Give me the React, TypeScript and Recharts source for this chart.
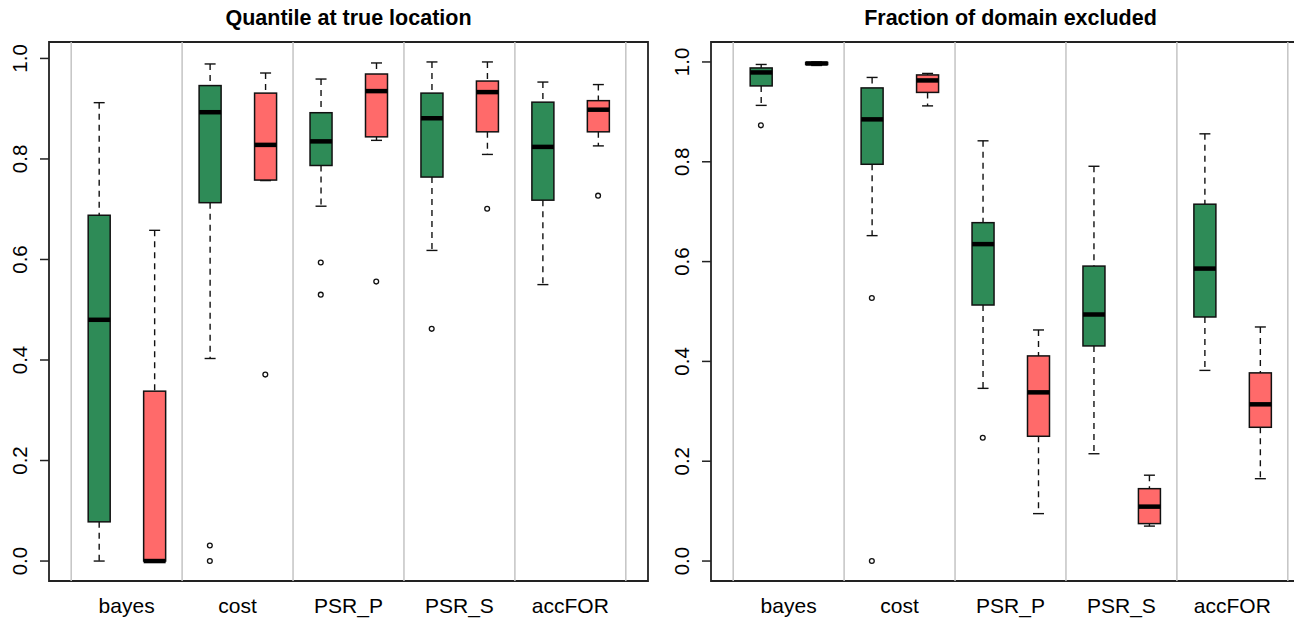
import {
  ComposedChart,
  Bar,
  Scatter,
  XAxis,
  YAxis,
  ReferenceLine,
  ReferenceArea,
} from "recharts";

const categories = ["bayes", "cost", "PSR_P", "PSR_S", "accFOR"];
const yTicks = [0, 0.2, 0.4, 0.6, 0.8, 1.0];

// each box: [lower whisker, Q1, median, Q3, upper whisker]
const quantileGreen = [
  [0.0, 0.078, 0.48, 0.688, 0.912],
  [0.403, 0.713, 0.893, 0.946, 0.989],
  [0.706, 0.787, 0.835, 0.892, 0.959],
  [0.618, 0.764, 0.881, 0.931, 0.993],
  [0.55, 0.718, 0.824, 0.913, 0.953],
];
const quantileRed = [
  [0.0, 0.0, 0.0, 0.338, 0.658],
  [0.757, 0.758, 0.828, 0.931, 0.971],
  [0.837, 0.844, 0.935, 0.969, 0.991],
  [0.809, 0.854, 0.933, 0.955, 0.993],
  [0.826, 0.854, 0.898, 0.916, 0.948],
];
const quantileGreenOut = [[], [0.031, 0.0], [0.594, 0.53], [0.462], []];
const quantileRedOut = [[], [0.371], [0.556], [0.701], [0.727]];

const excludedGreen = [
  [0.913, 0.952, 0.979, 0.988, 0.995],
  [0.652, 0.795, 0.885, 0.948, 0.969],
  [0.346, 0.513, 0.635, 0.678, 0.842],
  [0.215, 0.431, 0.494, 0.591, 0.791],
  [0.382, 0.489, 0.586, 0.715, 0.856],
];
const excludedRed = [
  [0.993, 0.995, 0.997, 0.999, 1.0],
  [0.912, 0.939, 0.963, 0.974, 0.977],
  [0.095, 0.25, 0.338, 0.411, 0.463],
  [0.07, 0.075, 0.109, 0.145, 0.172],
  [0.165, 0.268, 0.314, 0.377, 0.469],
];
const excludedGreenOut = [[0.873], [0.527, 0.0], [0.247], [], []];
const excludedRedOut = [[], [], [], [], []];

const GREEN = "#2E8B57";
const RED = "#FF6A6A";
const FONT = "'Liberation Sans', Arial, Helvetica, sans-serif";

const buildBoxes = (green: number[][], red: number[][]) =>
  categories.flatMap((_, i) =>
    [
      { pos: 2 * i + 1, s: green[i], fill: GREEN },
      { pos: 2 * i + 2, s: red[i], fill: RED },
    ].map(({ pos, s, fill }) => ({
      pos,
      fill,
      min: s[0],
      q1: s[1],
      med: s[2],
      q3: s[3],
      max: s[4],
    }))
  );

const buildOutliers = (green: number[][], red: number[][]) =>
  categories.flatMap((_, i) => [
    ...green[i].map((value) => ({ pos: 2 * i + 1, value })),
    ...red[i].map((value) => ({ pos: 2 * i + 2, value })),
  ]);

const groupCenters = categories.map((_, i) => 2 * i + 1.5);
const dividers = [...categories.map((_, i) => 2 * i + 0.5), 10.5];

const BoxShape = (props: any) => {
  const { x, y, width, height, payload } = props;
  const top = Math.min(y, y + height);
  const bottom = Math.max(y, y + height);
  const span = payload.max - payload.min;
  const py = (v: number) =>
    span === 0 ? top : bottom - ((v - payload.min) / span) * (bottom - top);
  const cx = x + width / 2;
  const cap = width / 4;
  return (
    <g>
      <line x1={cx} x2={cx} y1={py(payload.max)} y2={py(payload.q3)} stroke="#111" strokeWidth={1.4} strokeDasharray="6 5" />
      <line x1={cx} x2={cx} y1={py(payload.q1)} y2={py(payload.min)} stroke="#111" strokeWidth={1.4} strokeDasharray="6 5" />
      <line x1={cx - cap} x2={cx + cap} y1={py(payload.max)} y2={py(payload.max)} stroke="#111" strokeWidth={1.4} />
      <line x1={cx - cap} x2={cx + cap} y1={py(payload.min)} y2={py(payload.min)} stroke="#111" strokeWidth={1.4} />
      <rect
        x={x}
        y={py(payload.q3)}
        width={width}
        height={Math.max(0, py(payload.q1) - py(payload.q3))}
        fill={payload.fill}
        stroke="#111"
        strokeWidth={1.5}
      />
      <line x1={x} x2={x + width} y1={py(payload.med)} y2={py(payload.med)} stroke="#000" strokeWidth={4.5} />
    </g>
  );
};

const YTick = ({ x, y, payload }: any) => (
  <text
    x={x}
    y={y}
    transform={`rotate(-90 ${x} ${y})`}
    textAnchor="middle"
    fontSize={20.5}
    fontFamily={FONT}
    fill="#000"
  >
    {payload.value.toFixed(1)}
  </text>
);

const XTick = ({ x, y, payload }: any) => (
  <text x={x} y={y + 32} textAnchor="middle" fontSize={21} fontFamily={FONT} fill="#000">
    {categories[groupCenters.indexOf(payload.value)]}
  </text>
);

interface PanelProps {
  title: string;
  left: number;
  boxes: ReturnType<typeof buildBoxes>;
  outliers: { pos: number; value: number }[];
  yDomain: [number, number];
}

const W = 660;
const H = 619;
const M = { top: 42, right: 12, bottom: 8, left: 0 };
const Y_W = 49;

const Panel = ({ title, left, boxes, outliers, yDomain }: PanelProps) => (
  <div style={{ position: "absolute", left, top: 0, width: W, height: H }}>
    <div
      style={{
        position: "absolute",
        left: M.left + Y_W,
        width: W - M.left - Y_W - M.right,
        top: 8,
        textAlign: "center",
        fontFamily: FONT,
        fontWeight: "bold",
        fontSize: 21.5,
        lineHeight: "21.5px",
      }}
    >
      {title}
    </div>
    <ComposedChart width={W} height={H} data={boxes} margin={M}>
      <XAxis
        dataKey="pos"
        type="number"
        domain={[0.1, 10.9]}
        allowDataOverflow
        ticks={groupCenters}
        interval={0}
        tick={<XTick />}
        tickLine={false}
        axisLine={false}
        tickSize={0}
        tickMargin={0}
        height={30}
      />
      <YAxis
        type="number"
        domain={yDomain}
        allowDataOverflow
        ticks={yTicks}
        interval={0}
        width={Y_W}
        tick={<YTick />}
        tickSize={9}
        tickMargin={13}
        tickLine={{ stroke: "#222", strokeWidth: 1.5 }}
        axisLine={false}
      />
      {dividers.map((d) => (
        <ReferenceLine key={d} x={d} stroke="#c4c4c4" strokeWidth={1.5} />
      ))}
      <Bar
        dataKey={(d: any) => [d.min, d.max]}
        barSize={22}
        shape={<BoxShape />}
        isAnimationActive={false}
      />
      <Scatter
        data={outliers}
        dataKey="value"
        isAnimationActive={false}
        shape={(p: any) => (
          <circle cx={p.cx} cy={p.cy} r={2.4} fill="none" stroke="#111" strokeWidth={1.3} />
        )}
      />
      <ReferenceArea
        x1={0.1}
        x2={10.9}
        y1={yDomain[0]}
        y2={yDomain[1]}
        fill="none"
        stroke="#222"
        strokeWidth={1.8}
        ifOverflow="visible"
      />
    </ComposedChart>
  </div>
);

export default function App() {
  return (
    <div
      style={{
        position: "absolute",
        left: 0,
        top: 0,
        width: 1294,
        height: 619,
        overflow: "hidden",
        background: "#fff",
      }}
    >
      <Panel
        title="Quantile at true location"
        left={0}
        boxes={buildBoxes(quantileGreen, quantileRed)}
        outliers={buildOutliers(quantileGreenOut, quantileRedOut)}
        yDomain={[-0.0397, 1.0327]}
      />
      <Panel
        title="Fraction of domain excluded"
        left={662}
        boxes={buildBoxes(excludedGreen, excludedRed)}
        outliers={buildOutliers(excludedGreenOut, excludedRedOut)}
        yDomain={[-0.04, 1.04]}
      />
    </div>
  );
}
